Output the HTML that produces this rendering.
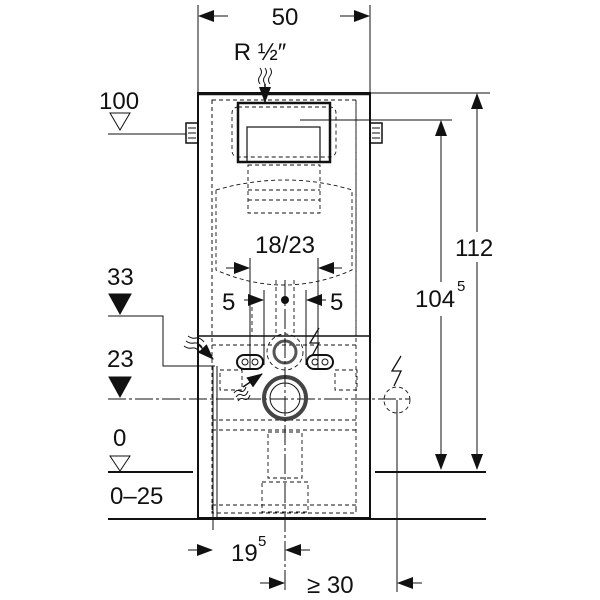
<!DOCTYPE html>
<html><head><meta charset="utf-8"><style>
html,body{margin:0;padding:0;background:#fff}
svg{display:block}
text{font-family:"Liberation Sans",sans-serif;fill:#111}
</style></head><body>
<svg width="600" height="600" viewBox="0 0 600 600" xmlns="http://www.w3.org/2000/svg">
<defs>
<marker id="a" markerWidth="16" markerHeight="12" refX="15" refY="6" orient="auto" markerUnits="userSpaceOnUse"><path d="M0,0 L16,6 L0,12 Z" fill="#111"/></marker>
</defs>
<g stroke="#111" fill="none" stroke-width="1">
<line x1="198" y1="5" x2="198" y2="93"/><line x1="370" y1="5" x2="370" y2="93"/>
<line x1="228" y1="16" x2="199" y2="16" marker-end="url(#a)"/>
<line x1="340" y1="16" x2="369" y2="16" marker-end="url(#a)"/>
<line x1="265" y1="84" x2="265" y2="102" marker-end="url(#a)" stroke-width="1.5"/>
<path d="M260,68 q3,4 0,8 q-3,4 0,8 M265,68 q3,4 0,8 q-3,4 0,8 M270,68 q3,4 0,8 q-3,4 0,8"/>
<rect x="198" y="93" width="172" height="425" stroke-width="2"/>
<line x1="198" y1="336" x2="370" y2="336" stroke-width="1.5"/>
<line x1="198" y1="94" x2="370" y2="94" stroke-width="2.5"/>
<g stroke-dasharray="4,3" stroke-width="0.9">
<line x1="212" y1="100" x2="212" y2="512"/><line x1="356" y1="100" x2="356" y2="512"/>
<rect x="212" y="100" width="144" height="236"/>
<rect x="232" y="107" width="104" height="50" rx="6"/>
<path d="M216,190 q70,-20 136,0 L352,270 q-68,30 -136,0 Z"/>
<rect x="248" y="165" width="72" height="48"/>
<line x1="248" y1="190" x2="320" y2="190"/>
<line x1="248" y1="200" x2="320" y2="200"/>
<path d="M252,300 L252,336 M318,300 L318,336 M276,280 L276,336 M294,280 L294,336"/>
<line x1="212" y1="345" x2="356" y2="345"/>
<line x1="212" y1="420" x2="356" y2="420"/>
<line x1="212" y1="430" x2="356" y2="430"/>
<rect x="268" y="432" width="34" height="46"/>
<rect x="262" y="482" width="46" height="30"/>
<rect x="212" y="505" width="144" height="8"/>
<rect x="220" y="370" width="22" height="20"/>
<rect x="335" y="370" width="22" height="20"/>
<circle cx="397" cy="400" r="13"/>
<circle cx="285" cy="352" r="18"/>
</g>
<rect x="238" y="103" width="92" height="59" stroke-width="2.5"/>
<rect x="247" y="127" width="73" height="35" stroke-width="1.2"/>
<rect x="186" y="123" width="12" height="20" stroke-width="1.5"/>
<path d="M188,128 h8 M188,133 h8 M188,138 h8"/>
<rect x="370" y="123" width="12" height="20" stroke-width="1.5"/>
<path d="M372,128 h8 M372,133 h8 M372,138 h8"/>
<line x1="370" y1="93" x2="490" y2="93"/>
<line x1="300" y1="120" x2="452" y2="120"/>
<line x1="477" y1="300" x2="477" y2="94" marker-end="url(#a)"/>
<line x1="477" y1="300" x2="477" y2="469" marker-end="url(#a)"/>
<line x1="441" y1="310" x2="441" y2="121" marker-end="url(#a)"/>
<line x1="441" y1="310" x2="441" y2="469" marker-end="url(#a)"/>
<line x1="108" y1="472" x2="193" y2="472" stroke-width="2"/>
<line x1="375" y1="472" x2="486" y2="472" stroke-width="2"/>
<line x1="108" y1="519" x2="486" y2="519" stroke-width="2"/>
<line x1="108" y1="134" x2="186" y2="134"/>
<path d="M108,316 L163,316 L163,366 L215,366"/>
<line x1="108" y1="399" x2="410" y2="399" stroke-dasharray="18,3,3,3"/>
<line x1="213" y1="366" x2="213" y2="530"/>
<line x1="217" y1="366" x2="217" y2="520"/>
<path d="M110,113 L130,113 L120,130 Z"/>
<path d="M110,456 L130,456 L120,471 Z"/>
<path d="M109,294 L131,294 L120,314 Z" fill="#111"/>
<path d="M109,377 L131,377 L120,397 Z" fill="#111"/>
<line x1="250" y1="258" x2="250" y2="370"/><line x1="318" y1="258" x2="318" y2="370"/>
<line x1="226" y1="268" x2="249" y2="268" marker-end="url(#a)"/>
<line x1="342" y1="268" x2="319" y2="268" marker-end="url(#a)"/>
<line x1="264" y1="290" x2="264" y2="365"/><line x1="306" y1="290" x2="306" y2="365"/>
<line x1="244" y1="300" x2="263" y2="300" marker-end="url(#a)"/>
<line x1="326" y1="300" x2="307" y2="300" marker-end="url(#a)"/>
<circle cx="285" cy="352" r="11" stroke-width="3" stroke="#555"/>
<circle cx="285" cy="398" r="21" stroke-width="4" stroke="#444"/>
<circle cx="285" cy="398" r="15" stroke-width="1"/>
<rect x="237" y="355" width="26" height="14" rx="7" stroke-width="2"/>
<rect x="307" y="355" width="26" height="14" rx="7" stroke-width="2"/>
<circle cx="245" cy="362" r="3"/><circle cx="255" cy="362" r="3"/>
<circle cx="315" cy="362" r="3"/><circle cx="325" cy="362" r="3"/>
<path d="M188,336 q4,3 8,2 q4,-1 8,4 M186,341 q4,3 8,2 q4,-1 8,4 M184,346 q4,3 8,2 q4,-1 8,4"/>
<line x1="198" y1="344" x2="213" y2="359" marker-end="url(#a)" stroke-width="1.5"/>
<path d="M234,393 q3,-4 6,-2 q4,2 6,-4 M236,397 q3,-4 6,-2 q4,2 6,-4 M238,401 q3,-4 6,-2 q4,2 6,-4"/>
<line x1="243" y1="387" x2="262" y2="374" marker-end="url(#a)" stroke-width="1.5"/>
<path d="M319,328 L310,343 L319,343 L312,356" stroke-width="1.3"/>
<path d="M401,356 L392,371 L401,371 L394,386" stroke-width="1.3"/>
<line x1="285" y1="280" x2="285" y2="592" stroke-dasharray="20,3,3,3"/>
<line x1="397" y1="400" x2="397" y2="592"/>
<line x1="188" y1="550" x2="212" y2="550" marker-end="url(#a)"/>
<line x1="310" y1="550" x2="286" y2="550" marker-end="url(#a)"/>
<line x1="260" y1="583" x2="284" y2="583" marker-end="url(#a)"/>
<line x1="422" y1="583" x2="398" y2="583" marker-end="url(#a)"/>
</g>
<circle cx="285" cy="300" r="4" fill="#111"/>
<rect x="455" y="232" width="46" height="30" fill="#fff"/>
<rect x="414" y="282" width="58" height="34" fill="#fff"/>
<g font-size="24">
<text x="285" y="25" text-anchor="middle">50</text>
<text x="260" y="60" text-anchor="middle">R ½″</text>
<text x="455" y="256">112</text>
<text x="415" y="307">104</text><text x="457" y="291" font-size="15">5</text>
<text x="99" y="109">100</text>
<text x="107" y="285">33</text>
<text x="107" y="367">23</text>
<text x="113" y="446">0</text>
<text x="110" y="504">0–25</text>
<text x="285" y="253" text-anchor="middle">18/23</text>
<text x="222" y="310">5</text>
<text x="330" y="310">5</text>
<text x="231" y="561">19</text><text x="258" y="546" font-size="15">5</text>
<text x="307" y="593">≥ 30</text>
</g>
</svg>
</body></html>
